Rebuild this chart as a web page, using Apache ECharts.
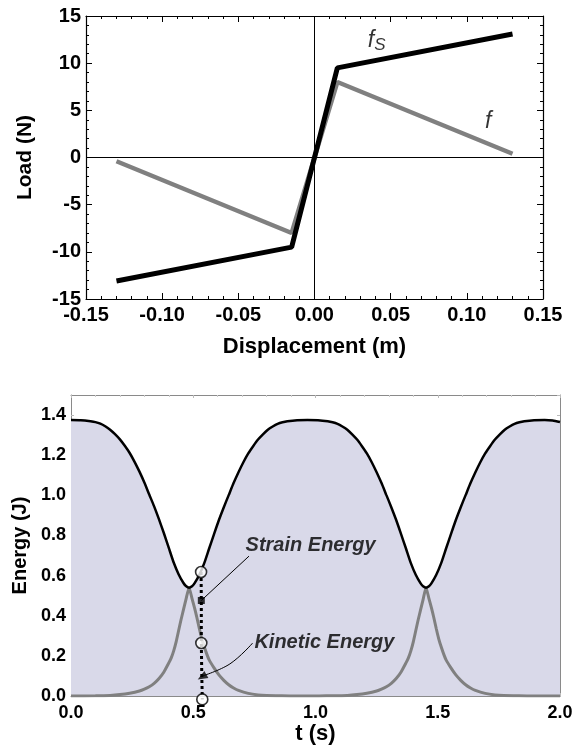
<!DOCTYPE html>
<html><head><meta charset="utf-8">
<script src="https://cdn.jsdelivr.net/npm/echarts@6/dist/echarts.min.js"></script>
<style>html,body{margin:0;padding:0;background:#fff}#c{width:576px;height:750px}</style>
</head><body><div id="c"></div>
<script>
// ---- Top chart: load vs displacement ----
const dispFs = [-0.13, -0.015, 0.015, 0.13];
const loadFs = [-13.1, -9.5, 9.5, 13.1];
const dispF  = [-0.13, -0.015, 0.015, 0.13];
const loadF  = [-0.4, -8.0, 8.0, 0.4];
const topXTicks = [-0.15, -0.10, -0.05, 0.00, 0.05, 0.10, 0.15];
const topYTicks = [-15, -10, -5, 0, 5, 10, 15];
const labelFsPos = [0.035, 12.4];
const labelFPos  = [0.112, 3.8];

// ---- Bottom chart: energy vs time ----
const tStrain = [0,0.04,0.08,0.10,0.12,0.14,0.16,0.18,0.20,0.22,0.24,0.26,0.28,0.30,0.32,0.34,0.36,0.38,0.40,0.42,0.44,0.46,0.47,0.483,0.495,0.505,0.525,0.545,0.565,0.585,0.605,0.625,0.645,0.665,0.685,0.705,0.725,0.745,0.765,0.785,0.805,0.825,0.845,0.865,0.885,0.925,0.967,1.01,1.05,1.07,1.09,1.11,1.13,1.15,1.17,1.19,1.21,1.23,1.25,1.27,1.29,1.31,1.33,1.35,1.37,1.39,1.41,1.43,1.44,1.452,1.464,1.474,1.494,1.514,1.534,1.554,1.574,1.594,1.614,1.634,1.654,1.674,1.694,1.714,1.734,1.754,1.774,1.794,1.814,1.834,1.854,1.894,1.937,1.97,2.0];
const eStrain = [1.375,1.374,1.369,1.365,1.357,1.344,1.327,1.305,1.279,1.247,1.211,1.167,1.118,1.064,1.004,0.945,0.880,0.811,0.738,0.665,0.607,0.563,0.548,0.540,0.547,0.561,0.604,0.662,0.735,0.807,0.877,0.941,1.001,1.061,1.115,1.165,1.209,1.245,1.278,1.304,1.327,1.343,1.356,1.364,1.369,1.374,1.375,1.374,1.369,1.364,1.356,1.343,1.327,1.304,1.278,1.245,1.209,1.165,1.115,1.061,1.001,0.941,0.877,0.807,0.735,0.662,0.604,0.561,0.547,0.540,0.547,0.561,0.604,0.662,0.735,0.807,0.877,0.941,1.001,1.061,1.115,1.165,1.209,1.245,1.278,1.304,1.327,1.343,1.356,1.364,1.369,1.374,1.375,1.373,1.365];
const tKin = [0,0.10,0.16,0.20,0.24,0.28,0.30,0.32,0.34,0.36,0.38,0.40,0.41,0.42,0.43,0.44,0.45,0.46,0.47,0.483,0.495,0.505,0.515,0.525,0.535,0.545,0.555,0.565,0.585,0.605,0.625,0.645,0.665,0.685,0.725,0.765,0.80,0.85,0.90,1.00,1.05,1.13,1.17,1.21,1.25,1.27,1.29,1.31,1.33,1.35,1.37,1.38,1.39,1.40,1.41,1.42,1.43,1.44,1.452,1.464,1.474,1.484,1.494,1.504,1.514,1.524,1.534,1.554,1.574,1.594,1.614,1.634,1.654,1.694,1.734,1.77,1.82,1.87,2.0];
const eKin = [0,0.001,0.003,0.007,0.014,0.025,0.034,0.046,0.063,0.087,0.12,0.165,0.19,0.225,0.27,0.325,0.38,0.43,0.48,0.54,0.485,0.44,0.39,0.335,0.285,0.245,0.21,0.18,0.14,0.105,0.078,0.056,0.04,0.028,0.013,0.005,0.002,0.001,0,0,0.001,0.003,0.007,0.014,0.025,0.034,0.046,0.063,0.087,0.12,0.165,0.19,0.225,0.27,0.325,0.38,0.43,0.48,0.54,0.485,0.44,0.39,0.335,0.285,0.245,0.21,0.18,0.14,0.105,0.078,0.056,0.04,0.028,0.013,0.005,0.002,0.001,0,0];
const bottomXTicks = [0.0, 0.5, 1.0, 1.5, 2.0];
const bottomYTicks = [0.0, 0.2, 0.4, 0.6, 0.8, 1.0, 1.2, 1.4];
// annotation markers
const dotT = [0.532, 0.533, 0.533, 0.535, 0.537];
const dotE = [0.618, 0.476, 0.264, 0.097, -0.017];
const circleT = [0.532, 0.533, 0.537];
const circleE = [0.618, 0.264, -0.017];
const squareT = [0.533]; const squareE = [0.476];
const arrowT = [0.536];  const arrowE = [0.095];
const strainLeaderT = [0.533, 0.728]; const strainLeaderE = [0.476, 0.697];
const kinLeaderT = [0.538, 0.65, 0.743]; const kinLeaderE = [0.1, 0.16, 0.264];
const strainLabelPos = [0.714, 0.75];
const kinLabelPos = [0.75, 0.267];

const FONT = "'Liberation Sans', Arial, Helvetica, sans-serif";
const zip = (a, b) => a.map((v, i) => [v, b[i]]);

const chart = echarts.init(document.getElementById('c'), null, {renderer: 'canvas'});

const lbl = (sz) => ({fontFamily: FONT, fontWeight: 'bold', fontSize: sz, color: '#000'});

const topAxisX = (pos, show) => ({
  gridIndex: 0, type: 'value', position: pos, min: topXTicks[0], max: topXTicks[topXTicks.length-1], interval: 0.05,
  axisLine: {show: true, onZero: false, lineStyle: {color: '#000', width: 1.2}},
  axisTick: {show: true, inside: true, length: 6, lineStyle: {color: '#000', width: 1}},
  minorTick: {show: true, splitNumber: 5, length: 3, lineStyle: {color: '#000', width: 1}},
  splitLine: {show: false},
  axisLabel: show ? Object.assign(lbl(20), {margin: 6, formatter: v => v.toFixed(2)}) : {show: false},
  name: show ? 'Displacement (m)' : '', nameLocation: 'middle', nameGap: 37,
  nameTextStyle: lbl(22)
});
const topAxisY = (pos, show) => ({
  gridIndex: 0, type: 'value', position: pos, min: -15, max: 15, interval: 5,
  axisLine: {show: true, onZero: false, lineStyle: {color: '#000', width: 1.2}},
  axisTick: {show: true, inside: true, length: 6, lineStyle: {color: '#000', width: 1}},
  minorTick: {show: true, splitNumber: 5, length: 3, lineStyle: {color: '#000', width: 1}},
  splitLine: {show: false},
  axisLabel: show ? Object.assign(lbl(20), {margin: 5, formatter: v => String(Math.round(v))}) : {show: false},
  name: show ? 'Load (N)' : '', nameLocation: 'middle', nameGap: 50, nameRotate: 90,
  nameTextStyle: lbl(21)
});
const botAxisX = (pos, show) => ({
  gridIndex: 1, type: 'value', position: pos, min: 0, max: 2, interval: 0.5,
  axisLine: {show: true, onZero: false, lineStyle: {color: '#8a8a8a', width: 1}},
  axisTick: {show: true, inside: true, length: 3, lineStyle: {color: '#bbb', width: 1}},
  minorTick: {show: true, splitNumber: 5, length: 2, lineStyle: {color: '#ccc', width: 1}},
  splitLine: {show: false},
  axisLabel: show ? Object.assign(lbl(18), {margin: 8, formatter: v => v.toFixed(1)}) : {show: false},
  name: show ? 't (s)' : '', nameLocation: 'middle', nameGap: 22,
  nameTextStyle: lbl(22)
});
const botAxisY = (pos, show) => ({
  gridIndex: 1, type: 'value', position: pos, min: 0, max: 1.5, interval: 0.2,
  axisLine: {show: true, onZero: false, lineStyle: {color: '#8a8a8a', width: 1}},
  axisTick: {show: true, inside: true, length: 3, lineStyle: {color: '#bbb', width: 1}},
  splitLine: {show: false},
  axisLabel: show ? Object.assign(lbl(18), {margin: 5, showMaxLabel: false, formatter: v => v.toFixed(1)}) : {show: false},
  name: show ? 'Energy (J)' : '', nameLocation: 'middle', nameGap: 40, nameRotate: 90,
  nameTextStyle: lbl(20)
});

const option = {
  animation: false,
  backgroundColor: '#fff',
  grid: [
    {left: 86, right: 33, top: 16, height: 283},
    {left: 71, right: 16, top: 395, height: 301}
  ],
  xAxis: [topAxisX('bottom', true), topAxisX('top', false), botAxisX('bottom', true), botAxisX('top', false)],
  yAxis: [topAxisY('left', true), topAxisY('right', false), botAxisY('left', true), botAxisY('right', false)],
  series: [
    // top chart
    {type: 'line', xAxisIndex: 0, yAxisIndex: 0, data: zip(dispF, loadF), symbol: 'none',
     lineStyle: {color: '#808080', width: 4.5}, z: 3,
     markLine: {silent: true, symbol: 'none', label: {show: false}, animation: false,
       lineStyle: {color: '#000', width: 1, type: 'solid'}, data: [{xAxis: 0}, {yAxis: 0}]}},
    {type: 'line', xAxisIndex: 0, yAxisIndex: 0, data: zip(dispFs, loadFs), symbol: 'none',
     lineStyle: {color: '#000', width: 5}, z: 4},
    {type: 'scatter', xAxisIndex: 0, yAxisIndex: 0, symbolSize: 0, silent: true, z: 6,
     data: [{value: labelFsPos, label: {formatter: '{a|f}{b|S}'}}, {value: labelFPos, label: {formatter: '{a|f}'}}],
     label: {show: true, position: 'right', distance: 0,
       rich: {a: {fontFamily: FONT, fontStyle: 'italic', fontSize: 23, color: '#000'},
              b: {fontFamily: FONT, fontStyle: 'italic', fontSize: 17, color: '#000', padding: [10, 0, 0, 0]}}}},
    // bottom chart: filled area under strain energy
    {type: 'line', xAxisIndex: 2, yAxisIndex: 2, data: zip(tStrain, eStrain), symbol: 'none', smooth: 0.2,
     lineStyle: {width: 0}, areaStyle: {color: '#d9d9e9', opacity: 1}, z: 1},
    {type: 'line', xAxisIndex: 2, yAxisIndex: 2, data: zip(tKin, eKin), symbol: 'none', smooth: 0.2,
     lineStyle: {color: '#808080', width: 3}, z: 3},
    {type: 'line', xAxisIndex: 2, yAxisIndex: 2, data: zip(tStrain, eStrain), symbol: 'none', smooth: 0.2,
     lineStyle: {color: '#000', width: 2.5}, z: 4},
    // leader lines
    {type: 'line', xAxisIndex: 2, yAxisIndex: 2, data: zip(strainLeaderT, strainLeaderE), symbol: 'none',
     lineStyle: {color: '#000', width: 1}, z: 5},
    {type: 'line', xAxisIndex: 2, yAxisIndex: 2, data: zip(kinLeaderT, kinLeaderE), symbol: 'none', smooth: 0.4,
     lineStyle: {color: '#000', width: 1}, z: 5},
    // dotted vertical line
    {type: 'line', xAxisIndex: 2, yAxisIndex: 2, data: zip(dotT, dotE), symbol: 'none', clip: false,
     lineStyle: {color: '#000', width: 3, type: [3, 3]}, z: 6},
    {type: 'scatter', xAxisIndex: 2, yAxisIndex: 2, data: zip(squareT, squareE), symbol: 'rect', symbolSize: 7,
     itemStyle: {color: '#000'}, z: 7},
    {type: 'scatter', xAxisIndex: 2, yAxisIndex: 2, data: zip(arrowT, arrowE), symbol: 'triangle', symbolSize: [8, 10],
     symbolRotate: 120, itemStyle: {color: '#000'}, z: 7},
    {type: 'scatter', xAxisIndex: 2, yAxisIndex: 2, data: zip(circleT, circleE), symbol: 'circle', symbolSize: 11,
     clip: false, itemStyle: {color: '#fff', borderColor: '#000', borderWidth: 1.6}, z: 8},
    // annotation texts
    {type: 'scatter', xAxisIndex: 2, yAxisIndex: 2, symbolSize: 0, silent: true, z: 9,
     data: [{value: strainLabelPos, label: {formatter: 'Strain Energy'}}, {value: kinLabelPos, label: {formatter: 'Kinetic Energy'}}],
     label: {show: true, position: 'right', distance: 0, fontFamily: FONT, fontWeight: 'bold', fontStyle: 'italic', fontSize: 20, color: '#000'}}
  ]
};
chart.setOption(option);
</script></body></html>
